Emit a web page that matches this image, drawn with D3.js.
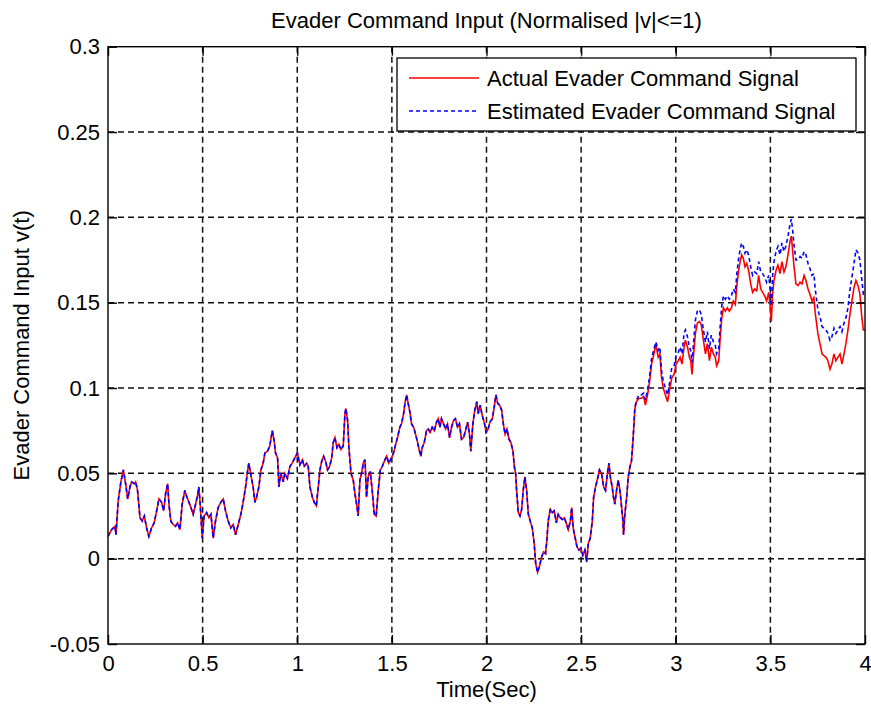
<!DOCTYPE html>
<html>
<head>
<meta charset="utf-8">
<script src="https://cdn.jsdelivr.net/npm/d3@7"></script>
<style>
  body { margin: 0; background: #fff; }
  svg text { font-family: "Liberation Sans", Arial, sans-serif; fill: #000; }
</style>
</head>
<body>
<div id="chart"></div>
<script>
// time samples (sec)
var timeSec = [
  0.000,0.019,0.037,0.042,0.054,0.068,0.081,0.093,0.104,0.116,0.125,0.139,0.146,0.156,0.169,0.181,0.192,0.204,0.216,0.230,
  0.244,0.257,0.269,0.283,0.294,0.304,0.315,0.322,0.332,0.345,0.357,0.368,0.380,0.392,0.406,0.417,0.428,0.438,0.450,0.463,
  0.473,0.480,0.487,0.498,0.508,0.521,0.533,0.544,0.556,0.568,0.582,0.596,0.609,0.621,0.635,0.649,0.662,0.674,0.688,0.702,
  0.714,0.727,0.737,0.744,0.755,0.767,0.776,0.785,0.797,0.808,0.820,0.829,0.843,0.855,0.868,0.878,0.885,0.896,0.903,0.913,
  0.926,0.934,0.948,0.961,0.973,0.987,1.001,1.014,1.027,1.037,1.050,1.058,1.067,1.080,1.090,1.101,1.111,1.120,1.129,1.139,
  1.150,1.160,1.171,1.182,1.190,1.199,1.210,1.220,1.231,1.243,1.252,1.257,1.266,1.273,1.284,1.296,1.305,1.315,1.322,1.331,
  1.340,1.349,1.358,1.366,1.375,1.386,1.396,1.407,1.417,1.428,1.439,1.449,1.460,1.472,1.484,1.498,1.509,1.520,1.530,1.542,
  1.551,1.562,1.569,1.578,1.586,1.595,1.604,1.615,1.625,1.636,1.644,1.653,1.660,1.671,1.683,1.692,1.703,1.713,1.724,1.736,
  1.745,1.754,1.762,1.773,1.784,1.794,1.805,1.815,1.826,1.836,1.847,1.857,1.868,1.879,1.889,1.900,1.910,1.917,1.928,1.938,
  1.949,1.956,1.967,1.977,1.988,1.998,2.009,2.018,2.031,2.041,2.050,2.059,2.069,2.080,2.089,2.098,2.108,2.119,2.129,2.140,
  2.147,2.154,2.159,2.168,2.177,2.186,2.194,2.203,2.212,2.221,2.231,2.242,2.252,2.260,2.270,2.281,2.291,2.302,2.312,2.319,
  2.326,2.337,2.348,2.358,2.369,2.379,2.390,2.400,2.411,2.421,2.432,2.443,2.450,2.458,2.467,2.478,2.488,2.499,2.509,2.520,
  2.529,2.538,2.548,2.559,2.566,2.576,2.587,2.597,2.608,2.619,2.629,2.640,2.647,2.654,2.664,2.671,2.678,2.687,2.696,2.705,
  2.714,2.721,2.724,2.731,2.740,2.749,2.758,2.766,2.775,2.784,2.793,2.805,2.819,2.830,2.840,2.851,2.861,2.872,2.885,2.895,
  2.907,2.916,2.925,2.934,2.948,2.957,2.969,2.979,2.991,3.002,3.014,3.023,3.033,3.044,3.051,3.062,3.072,3.079,3.086,3.093,
  3.104,3.114,3.125,3.135,3.146,3.157,3.167,3.178,3.188,3.199,3.209,3.216,3.227,3.234,3.243,3.252,3.262,3.273,3.283,3.294,
  3.304,3.315,3.322,3.331,3.340,3.348,3.357,3.366,3.375,3.385,3.396,3.406,3.417,3.428,3.438,3.449,3.459,3.470,3.480,3.491,
  3.498,3.505,3.512,3.519,3.530,3.540,3.551,3.561,3.572,3.582,3.593,3.604,3.611,3.618,3.625,3.635,3.646,3.657,3.667,3.678,
  3.688,3.699,3.709,3.720,3.730,3.737,3.744,3.751,3.758,3.766,3.773,3.783,3.794,3.804,3.815,3.825,3.836,3.846,3.857,3.868,
  3.878,3.889,3.899,3.910,3.920,3.931,3.942,3.952,3.963,3.973,3.982,3.991,4.000
];

// Actual Evader Command Signal
var actualSignal = [
  0.013,0.017,0.019,0.014,0.034,0.045,0.052,0.044,0.035,0.042,0.045,0.044,0.045,0.040,0.024,0.022,0.025,0.018,0.013,0.018,
  0.021,0.028,0.035,0.033,0.028,0.038,0.044,0.032,0.022,0.020,0.019,0.021,0.017,0.032,0.040,0.036,0.033,0.030,0.026,0.032,
  0.037,0.042,0.032,0.012,0.025,0.027,0.024,0.026,0.012,0.022,0.030,0.033,0.035,0.028,0.022,0.018,0.020,0.014,0.020,0.026,
  0.033,0.042,0.051,0.056,0.049,0.042,0.033,0.036,0.042,0.052,0.056,0.062,0.063,0.066,0.075,0.069,0.062,0.059,0.042,0.050,
  0.045,0.050,0.047,0.054,0.056,0.059,0.062,0.055,0.058,0.054,0.056,0.054,0.042,0.036,0.033,0.031,0.042,0.052,0.057,0.060,
  0.057,0.052,0.054,0.059,0.068,0.071,0.065,0.067,0.064,0.066,0.085,0.088,0.081,0.065,0.050,0.046,0.038,0.031,0.025,0.046,
  0.050,0.056,0.058,0.036,0.048,0.051,0.040,0.026,0.025,0.040,0.052,0.054,0.057,0.060,0.056,0.059,0.062,0.067,0.071,0.077,
  0.079,0.085,0.091,0.096,0.091,0.086,0.079,0.077,0.073,0.068,0.064,0.060,0.065,0.068,0.075,0.076,0.074,0.077,0.075,0.080,
  0.082,0.077,0.082,0.079,0.076,0.079,0.071,0.077,0.081,0.082,0.077,0.079,0.070,0.071,0.075,0.080,0.073,0.063,0.079,0.087,
  0.092,0.085,0.090,0.084,0.080,0.074,0.076,0.080,0.082,0.089,0.096,0.091,0.090,0.087,0.079,0.073,0.076,0.070,0.068,0.063,
  0.054,0.050,0.040,0.027,0.025,0.029,0.040,0.048,0.040,0.026,0.022,0.018,0.009,-0.003,-0.008,-0.004,0.001,0.004,0.003,0.011,
  0.022,0.029,0.027,0.028,0.021,0.026,0.024,0.023,0.024,0.021,0.017,0.022,0.030,0.018,0.013,0.007,0.005,0.006,0.002,0.005,
  -0.002,0.009,0.012,0.022,0.036,0.042,0.047,0.052,0.050,0.042,0.040,0.051,0.056,0.048,0.042,0.036,0.032,0.040,0.046,0.040,
  0.030,0.022,0.014,0.026,0.035,0.048,0.054,0.057,0.071,0.088,0.092,0.094,0.094,0.095,0.090,0.096,0.103,0.114,0.120,0.126,
  0.118,0.120,0.106,0.100,0.095,0.092,0.100,0.106,0.108,0.114,0.116,0.118,0.114,0.124,0.128,0.124,0.118,0.116,0.108,0.118,
  0.132,0.138,0.139,0.137,0.128,0.120,0.126,0.116,0.124,0.120,0.118,0.113,0.116,0.128,0.141,0.147,0.145,0.147,0.145,0.147,
  0.151,0.149,0.159,0.168,0.174,0.178,0.176,0.171,0.173,0.169,0.161,0.156,0.158,0.157,0.166,0.158,0.156,0.154,0.151,0.156,
  0.149,0.139,0.155,0.163,0.169,0.172,0.167,0.174,0.168,0.171,0.178,0.186,0.189,0.180,0.171,0.161,0.160,0.162,0.161,0.166,
  0.163,0.158,0.155,0.151,0.153,0.144,0.138,0.132,0.128,0.124,0.120,0.119,0.118,0.116,0.111,0.114,0.120,0.116,0.118,0.120,
  0.114,0.120,0.126,0.134,0.143,0.151,0.159,0.163,0.160,0.155,0.143,0.134,0.134
];

// Estimated Evader Command Signal
var estimatedSignal = [
  0.013,0.017,0.019,0.014,0.034,0.045,0.052,0.044,0.035,0.042,0.045,0.044,0.045,0.040,0.024,0.022,0.025,0.018,0.013,0.018,
  0.021,0.028,0.035,0.033,0.028,0.038,0.044,0.032,0.022,0.020,0.019,0.021,0.017,0.032,0.040,0.036,0.033,0.030,0.026,0.032,
  0.037,0.042,0.032,0.012,0.025,0.027,0.024,0.026,0.012,0.022,0.030,0.033,0.035,0.028,0.022,0.018,0.020,0.014,0.020,0.026,
  0.033,0.042,0.051,0.056,0.049,0.042,0.033,0.036,0.042,0.052,0.056,0.062,0.063,0.066,0.075,0.069,0.062,0.059,0.042,0.050,
  0.045,0.050,0.047,0.054,0.056,0.059,0.062,0.055,0.058,0.054,0.056,0.054,0.042,0.036,0.033,0.031,0.042,0.052,0.057,0.060,
  0.057,0.052,0.054,0.059,0.068,0.071,0.065,0.067,0.064,0.066,0.085,0.088,0.081,0.065,0.050,0.046,0.038,0.031,0.025,0.046,
  0.050,0.056,0.058,0.036,0.048,0.051,0.040,0.026,0.025,0.040,0.052,0.054,0.057,0.060,0.056,0.059,0.062,0.067,0.071,0.077,
  0.079,0.085,0.091,0.096,0.091,0.086,0.079,0.077,0.073,0.068,0.064,0.060,0.065,0.068,0.075,0.076,0.074,0.077,0.075,0.080,
  0.082,0.077,0.082,0.079,0.076,0.079,0.071,0.077,0.081,0.082,0.077,0.079,0.070,0.071,0.075,0.080,0.073,0.063,0.079,0.087,
  0.092,0.085,0.090,0.084,0.080,0.074,0.076,0.080,0.082,0.089,0.096,0.091,0.090,0.087,0.079,0.073,0.076,0.070,0.068,0.063,
  0.054,0.050,0.040,0.027,0.025,0.029,0.040,0.048,0.040,0.026,0.022,0.018,0.009,-0.003,-0.008,-0.004,0.001,0.004,0.003,0.011,
  0.022,0.029,0.027,0.028,0.021,0.026,0.024,0.023,0.024,0.021,0.017,0.022,0.030,0.018,0.013,0.007,0.005,0.006,0.002,0.005,
  -0.002,0.009,0.012,0.022,0.036,0.042,0.047,0.052,0.050,0.042,0.040,0.051,0.056,0.048,0.042,0.036,0.032,0.040,0.046,0.040,
  0.030,0.022,0.014,0.026,0.035,0.048,0.054,0.057,0.071,0.089,0.093,0.096,0.096,0.097,0.093,0.099,0.106,0.117,0.123,0.127,
  0.122,0.124,0.110,0.104,0.099,0.096,0.104,0.112,0.113,0.119,0.121,0.124,0.120,0.132,0.134,0.130,0.124,0.122,0.115,0.125,
  0.140,0.145,0.146,0.143,0.134,0.127,0.133,0.123,0.131,0.127,0.125,0.120,0.123,0.135,0.148,0.154,0.152,0.154,0.152,0.154,
  0.158,0.156,0.166,0.175,0.181,0.185,0.183,0.179,0.181,0.178,0.171,0.166,0.168,0.167,0.174,0.168,0.167,0.165,0.162,0.166,
  0.159,0.148,0.166,0.174,0.180,0.183,0.178,0.185,0.180,0.183,0.189,0.196,0.199,0.192,0.184,0.175,0.175,0.177,0.176,0.180,
  0.178,0.173,0.170,0.166,0.167,0.158,0.152,0.146,0.143,0.140,0.136,0.135,0.134,0.132,0.128,0.130,0.135,0.132,0.134,0.136,
  0.133,0.138,0.141,0.147,0.157,0.165,0.173,0.181,0.179,0.175,0.165,0.155,0.154
];

var xTicks = [0, 0.5, 1, 1.5, 2, 2.5, 3, 3.5, 4];
var yTicks = [-0.05, 0, 0.05, 0.1, 0.15, 0.2, 0.25, 0.3];
var seriesNames = ["Actual Evader Command Signal", "Estimated Evader Command Signal"];

var W = 871, H = 711;
// plot box (names avoid window.top)
var pL = 108, pR = 865, pT = 46.7, pB = 644;

var svg = d3.select("#chart").append("svg")
  .attr("width", W).attr("height", H);

var x = d3.scaleLinear().domain([0, 4]).range([pL, pR]);
var y = d3.scaleLinear().domain([-0.05, 0.3]).range([pB, pT]);

// grid
svg.append("g").selectAll("line")
  .data(xTicks.slice(1, -1)).enter().append("line")
  .attr("x1", function(d){ return x(d); }).attr("x2", function(d){ return x(d); })
  .attr("y1", pT).attr("y2", pB)
  .attr("stroke", "#111").attr("stroke-width", 1.5).attr("stroke-dasharray", "6,4");
svg.append("g").selectAll("line")
  .data(yTicks.slice(1, -1)).enter().append("line")
  .attr("y1", function(d){ return y(d); }).attr("y2", function(d){ return y(d); })
  .attr("x1", pL).attr("x2", pR)
  .attr("stroke", "#111").attr("stroke-width", 1.5).attr("stroke-dasharray", "6,4");

// clip for the traces
svg.append("clipPath").attr("id", "plotclip").append("rect")
  .attr("x", pL).attr("y", pT).attr("width", pR - pL).attr("height", pB - pT);

var pts = timeSec.map(function(t, i){ return {t: t, a: actualSignal[i], e: estimatedSignal[i]}; });

var lineA = d3.line().x(function(d){ return x(d.t); }).y(function(d){ return y(d.a); });
var lineE = d3.line().x(function(d){ return x(d.t); }).y(function(d){ return y(d.e); });

var traces = svg.append("g").attr("clip-path", "url(#plotclip)");
traces.append("path").datum(pts).attr("d", lineA)
  .attr("fill", "none").attr("stroke", "#ff0000").attr("stroke-width", 1.6);
traces.append("path").datum(pts).attr("d", lineE)
  .attr("fill", "none").attr("stroke", "#0000ff").attr("stroke-width", 1.6)
  .attr("stroke-dasharray", "4,3");

// axes (ticks pointing inwards like matlab)
var fmt = function(d){ return String(+d.toFixed(2)); };
var ax = svg.append("g").attr("transform", "translate(0," + pB + ")")
  .call(d3.axisBottom(x).tickValues(xTicks).tickFormat(fmt).tickSizeInner(-9).tickSizeOuter(0).tickPadding(11));
var axTop = svg.append("g").attr("transform", "translate(0," + pT + ")")
  .call(d3.axisTop(x).tickValues(xTicks).tickFormat("").tickSizeInner(-9).tickSizeOuter(0));
var ay = svg.append("g").attr("transform", "translate(" + pL + ",0)")
  .call(d3.axisLeft(y).tickValues(yTicks).tickFormat(fmt).tickSizeInner(-9).tickSizeOuter(0).tickPadding(8));
var ayR = svg.append("g").attr("transform", "translate(" + pR + ",0)")
  .call(d3.axisRight(y).tickValues(yTicks).tickFormat("").tickSizeInner(-9).tickSizeOuter(0));

[ax, axTop, ay, ayR].forEach(function(g){
  g.select(".domain").remove();
  g.selectAll(".tick line").attr("stroke", "#000").attr("stroke-width", 1.4);
  g.selectAll("text").style("font-size", "22px").style("font-family", "'Liberation Sans', Arial, sans-serif").attr("fill", "#000");
});

// frame
svg.append("rect").attr("x", pL).attr("y", pT)
  .attr("width", pR - pL).attr("height", pB - pT)
  .attr("fill", "none").attr("stroke", "#000").attr("stroke-width", 1.4);

// title and labels
svg.append("text").attr("x", (pL + pR) / 2).attr("y", 28)
  .attr("text-anchor", "middle").style("font-size", "22px")
  .text("Evader Command Input (Normalised |v|<=1)");
svg.append("text").attr("x", (pL + pR) / 2).attr("y", 697)
  .attr("text-anchor", "middle").style("font-size", "22px")
  .text("Time(Sec)");
svg.append("text").attr("transform", "translate(29," + (pT + pB) / 2 + ") rotate(-90)")
  .attr("text-anchor", "middle").style("font-size", "22px")
  .text("Evader Command Input v(t)");

// legend
var lg = svg.append("g");
lg.append("rect").attr("x", 397).attr("y", 58).attr("width", 459).attr("height", 73)
  .attr("fill", "#fff").attr("stroke", "#000").attr("stroke-width", 1.3);
var lgRows = [
  {name: seriesNames[0], color: "#ff0000", dash: null, y: 78},
  {name: seriesNames[1], color: "#0000ff", dash: "4,3", y: 111}
];
lgRows.forEach(function(r){
  lg.append("line").attr("x1", 409).attr("x2", 479).attr("y1", r.y).attr("y2", r.y)
    .attr("stroke", r.color).attr("stroke-width", 1.6)
    .attr("stroke-dasharray", r.dash);
  lg.append("text").attr("x", 487).attr("y", r.y + 8).style("font-size", "22px").text(r.name);
});
</script>
</body>
</html>
